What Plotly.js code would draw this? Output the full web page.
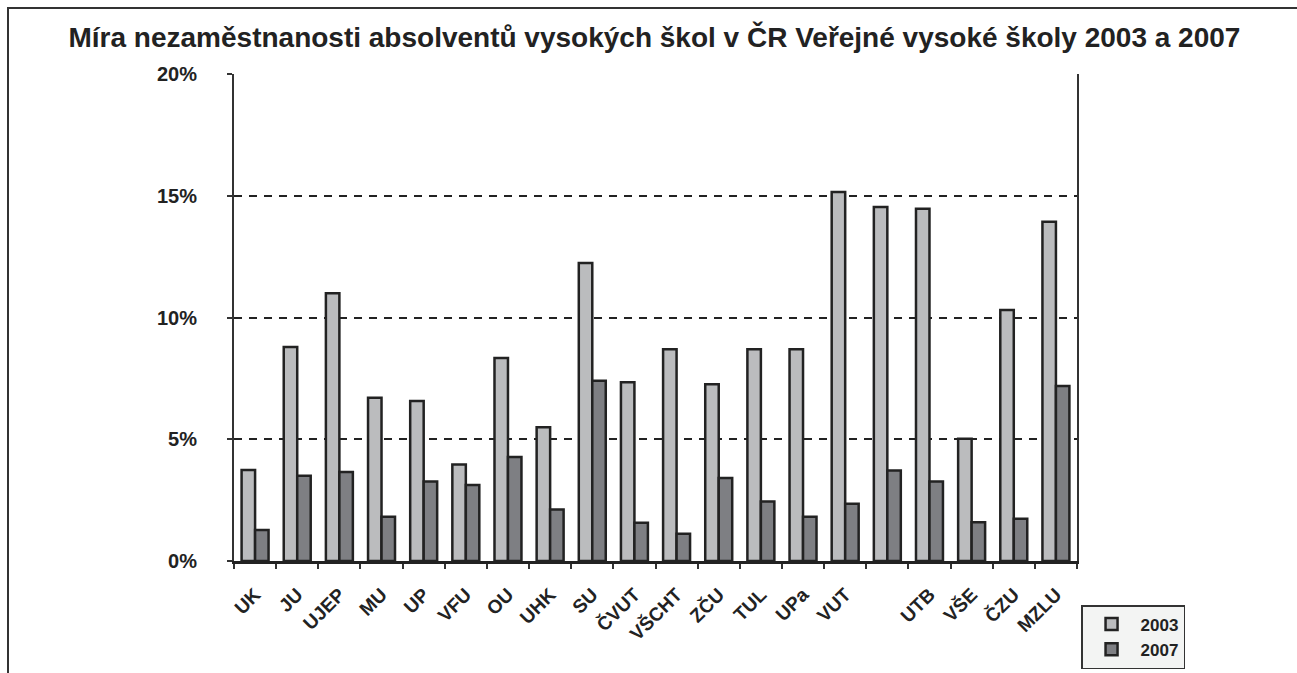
<!DOCTYPE html>
<html>
<head>
<meta charset="utf-8">
<script src="https://cdn.plot.ly/plotly-3.0.1.min.js"></script>
<style>
  html, body { margin: 0; padding: 0; background: #fff; }
  #wrap { position: relative; width: 1297px; height: 673px; overflow: hidden; }
  #chart { position: absolute; left: 0; top: 0; width: 1297px; height: 673px; }
  #frame { position: absolute; left: 7px; top: 7px; width: 1300px; height: 680px;
           border-top: 2px solid #333; border-left: 2px solid #333; pointer-events: none; }
</style>
</head>
<body>
<div id="wrap">
  <div id="chart"></div>
  <div id="frame"></div>
</div>
<script>
// Categories (universities); the 16th category has no label in the original
const schools = ["UK", "JU", "UJEP", "MU", "UP", "VFU", "OU", "UHK", "SU", "ČVUT",
                 "VŠCHT", "ZČU", "TUL", "UPa", "VUT", " ", "UTB", "VŠE", "ČZU", "MZLU"];
// Unemployment rate of graduates (%)
const rate2003 = [3.74, 8.79, 11.0, 6.7, 6.57, 3.96, 8.34, 5.49, 12.24, 7.34,
                  8.7, 7.26, 8.7, 8.7, 15.15, 14.54, 14.47, 5.02, 10.31, 13.93];
const rate2007 = [1.27, 3.5, 3.65, 1.82, 3.27, 3.12, 4.27, 2.12, 7.4, 1.57,
                  1.12, 3.41, 2.44, 1.82, 2.35, 3.72, 3.27, 1.59, 1.74, 7.19];
const seriesNames = ["2003", "2007"];
const yTickVals = [0, 5, 10, 15, 20];
const yTickText = ["0%", "5%", "10%", "15%", "20%"];
const titleText = "Míra nezaměstnanosti absolventů vysokých škol v ČR Veřejné vysoké školy 2003 a 2007";

const FONT = "Liberation Sans, Arial, sans-serif";
const INK = "#222222";

const traces = [
  {
    type: "bar", name: seriesNames[0], x: schools, y: rate2003,
    marker: { color: "#bbbcbe", line: { color: INK, width: 2.5 } },
    hoverinfo: "x+y"
  },
  {
    type: "bar", name: seriesNames[1], x: schools, y: rate2007,
    marker: { color: "#7e7f83", line: { color: INK, width: 2.5 } },
    hoverinfo: "x+y"
  }
];

const layout = {
  width: 1297, height: 673,
  margin: { l: 234, r: 220, t: 74, b: 112, autoexpand: false },
  paper_bgcolor: "#ffffff",
  plot_bgcolor: "#ffffff",
  font: { family: FONT, color: INK, size: 19, weight: "bold" },
  title: {
    text: titleText,
    font: { family: FONT, size: 28, color: INK, weight: "bold" },
    xref: "container", yref: "container",
    x: 0.5046, xanchor: "center",
    y: 0.944, yanchor: "middle",
    automargin: false
  },
  barmode: "group",
  bargap: 0.36,
  bargroupgap: 0,
  showlegend: true,
  legend: {
    xref: "container", yref: "container",
    x: 0.8335, xanchor: "left",
    y: 0.101, yanchor: "top",
    bgcolor: "#f3f4f3",
    bordercolor: "#333333",
    borderwidth: 1.5,
    font: { family: FONT, size: 17, color: INK, weight: "bold" },
    tracegroupgap: 0,
    itemwidth: 48
  },
  xaxis: {
    type: "category",
    automargin: false,
    tickangle: -45,
    tickson: "boundaries",
    ticks: "outside",
    ticklen: 5,
    tickwidth: 2,
    tickcolor: "#333333",
    showline: true,
    linecolor: "#222222",
    linewidth: 3,
    mirror: false,
    showgrid: false,
    zeroline: false,
    tickfont: { family: FONT, size: 19, color: INK, weight: "bold" },
    ticklabelstandoff: 12,
    fixedrange: true
  },
  yaxis: {
    range: [0, 20],
    automargin: false,
    tickvals: yTickVals,
    ticktext: yTickText,
    ticks: "outside",
    ticklen: 5,
    tickwidth: 2,
    tickcolor: "#333333",
    showline: true,
    linecolor: "#333333",
    linewidth: 2,
    mirror: true,
    showgrid: true,
    gridcolor: "#222222",
    gridwidth: 2,
    griddash: "8px,7px",
    zeroline: false,
    tickfont: { family: FONT, size: 20, color: INK, weight: "bold" },
    ticklabelstandoff: 26,
    fixedrange: true
  }
};

Plotly.newPlot("chart", traces, layout, { displayModeBar: false, staticPlot: true });
</script>
</body>
</html>
